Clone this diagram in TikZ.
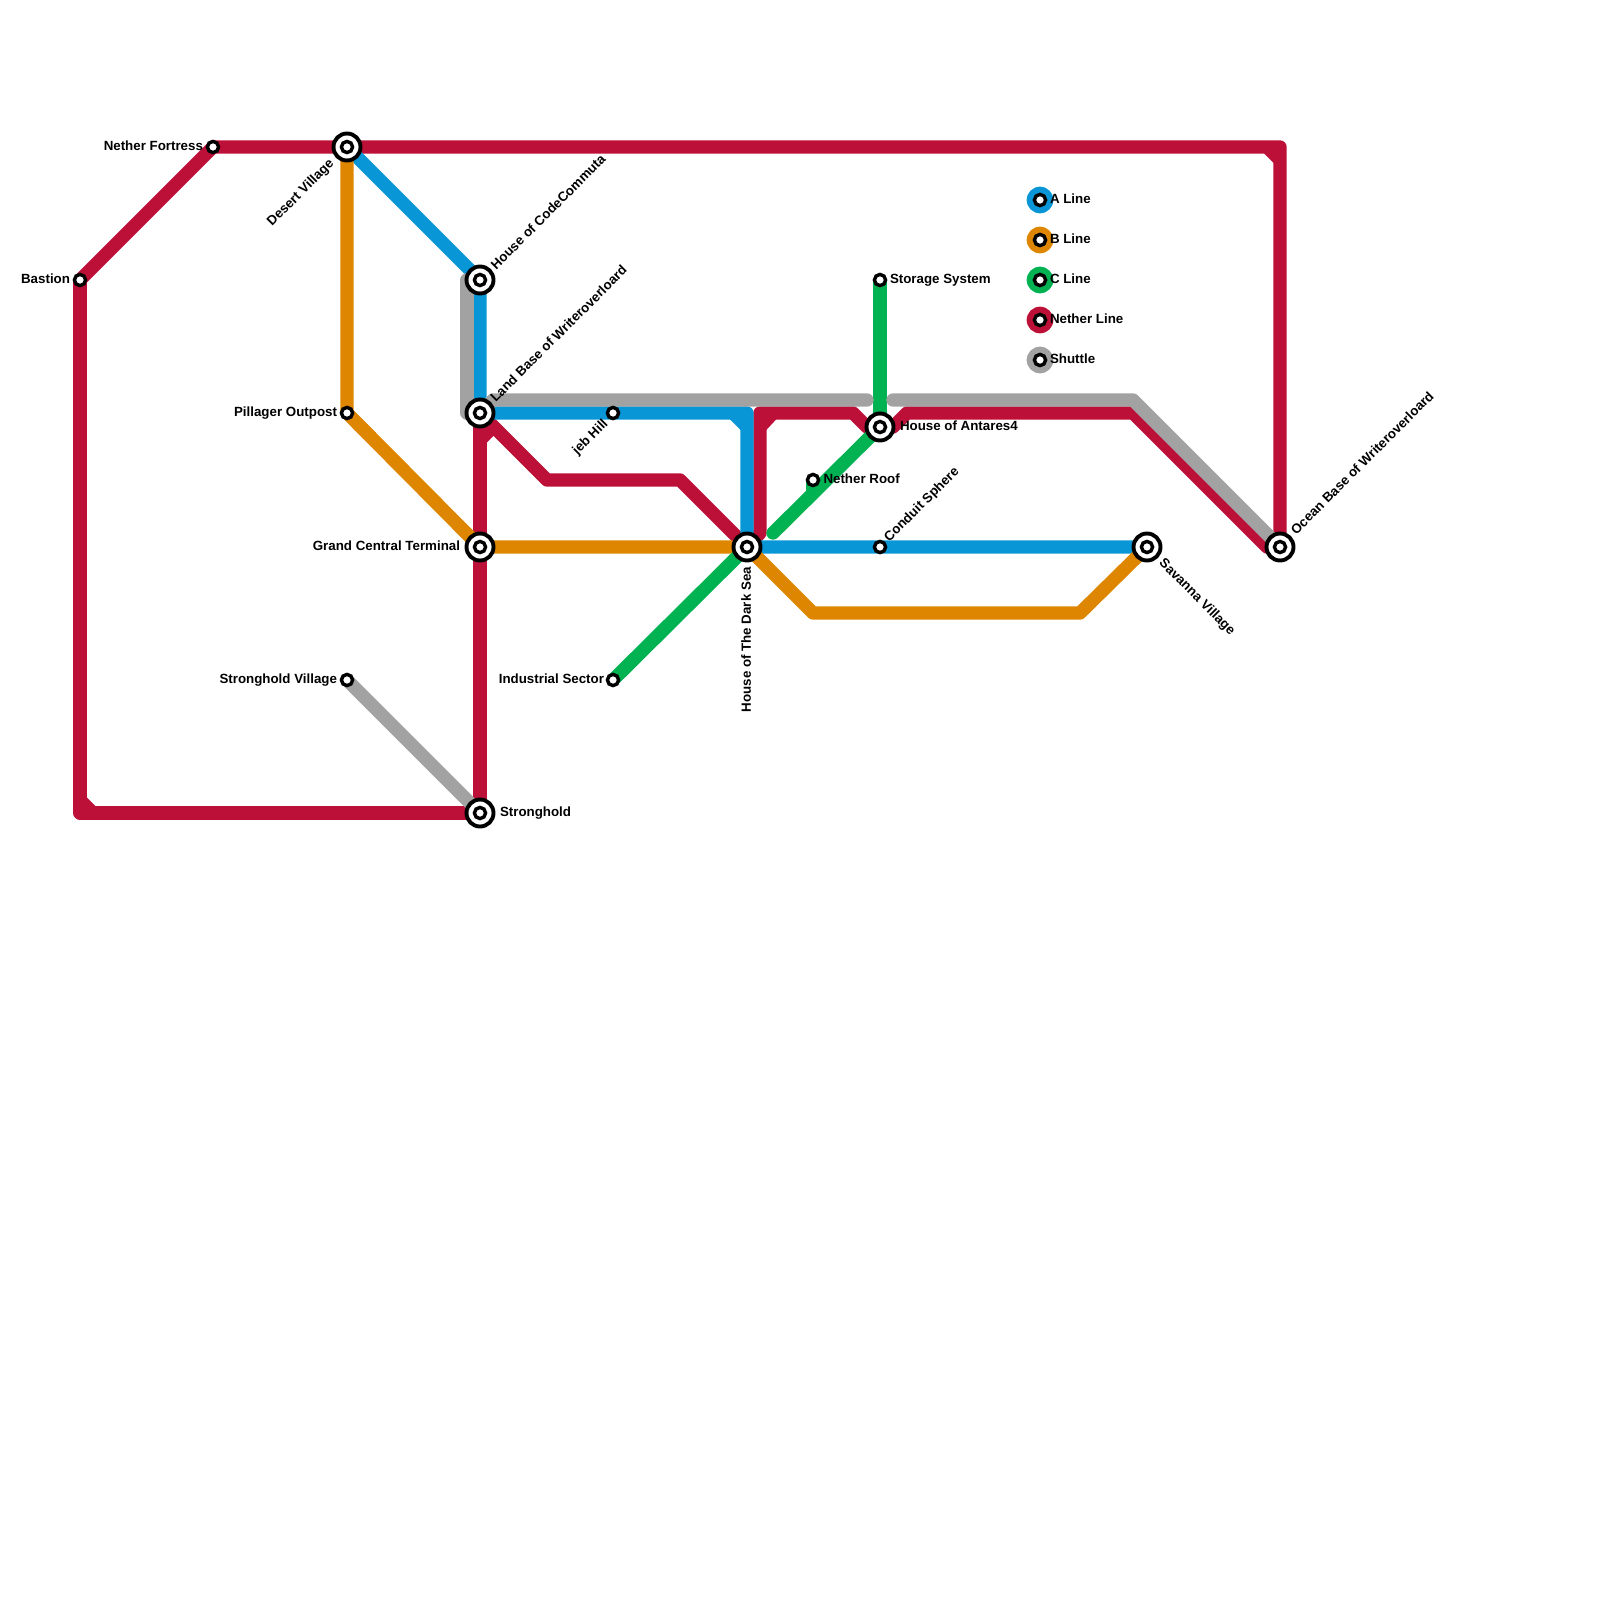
\documentclass[tikz,border=0pt]{standalone}
\usepackage{fontspec}
\setmainfont{Liberation Sans}
\usepackage{xcolor}
\usetikzlibrary{backgrounds}
\definecolor{lineablue}{HTML}{0896D7}
\definecolor{linebor}{HTML}{DF8600}
\definecolor{linecgr}{HTML}{00B251}
\definecolor{nethred}{HTML}{BD1038}
\definecolor{shutgray}{HTML}{A2A2A2}

\begin{document}
\begin{tikzpicture}[
        x=0.01cm, y=-0.01cm,
        every node/.style={inner sep=0pt, outer sep=0pt},
        stn/.style   ={circle, draw=black, fill=white, line width=0.034cm,
                       minimum size=0.112cm},
        hub/.style   ={circle, draw=black, fill=white, line width=0.039cm,
                       minimum size=0.27cm,
                       path picture={\draw[line width=0.034cm]
                           (path picture bounding box.center) circle[radius=0.056cm];}},
        metro/.style ={line width=0.1333cm, line join=round},
        aline/.style ={metro, draw=lineablue},
        bline/.style ={metro, draw=linebor},
        cline/.style ={metro, draw=linecgr},
        nline/.style ={metro, draw=nethred},
        sline/.style ={metro, draw=shutgray},
        swatch/.style={circle, minimum size=0.2667cm},
        lbl/.style   ={font=\fontsize{3.79pt}{4.5pt}\selectfont\bfseries,
                       text height=0.096cm, text depth=0pt},
    ]
        \useasboundingbox (0,0) rectangle (1600,1600);

        % ===================== Estaciones =====================
        \node[stn] (bastion) at (80,280) {};
        \node[stn] (fortress) at (213,147) {};
        \node[hub] (desert) at (347,147) {};
        \node[hub] (codecom) at (480,280) {};
        \node[hub] (landbase) at (480,413) {};
        \node[stn] (pillager) at (347,413) {};
        \node[stn] (jeb) at (613,413) {};
        \node[hub] (central) at (480,547) {};
        \node[hub] (darksea) at (747,547) {};
        \node[stn] (roof) at (813,480) {};
        \node[hub] (antares) at (880,427) {};
        \node[stn] (storage) at (880,280) {};
        \node[stn] (conduit) at (880,547) {};
        \node[hub] (savanna) at (1147,547) {};
        \node[hub] (ocean) at (1280,547) {};
        \node[stn] (svillage) at (347,680) {};
        \node[stn] (industrial) at (613,680) {};
        \node[hub] (stronghold) at (480,813) {};

        % ===================== Puntos de giro =====================
        \coordinate (nTopA) at (1267,147);
        \coordinate (nTopB) at (1280,147);
        \coordinate (nTopC) at (1280,160);
        \coordinate (nLowA) at (80,800);
        \coordinate (nLowB) at (80,813);
        \coordinate (nLowC) at (93,813);
        \coordinate (nLbA) at (480,440);
        \coordinate (nLbB) at (493,427);
        \coordinate (nMidA) at (547,480);
        \coordinate (nMidB) at (680,480);
        \coordinate (nUpA) at (760,533);
        \coordinate (nUpB) at (760,413);
        \coordinate (nUpC) at (760,427);
        \coordinate (nUpD) at (773,413);
        \coordinate (nUpE) at (853,413);
        \coordinate (nUpF) at (867,427);
        \coordinate (nUpG) at (893,427);
        \coordinate (nUpH) at (907,413);
        \coordinate (nUpI) at (1133,413);
        \coordinate (nUpJ) at (1267,547);
        \coordinate (aCorner) at (747,413);
        \coordinate (aCutA) at (733,413);
        \coordinate (aCutB) at (747,427);
        \coordinate (bLowA) at (813,613);
        \coordinate (bLowB) at (1080,613);
        \coordinate (cEnd) at (773,533);
        \coordinate (cRoof) at (813,494);
        \coordinate (sTop) at (467,280);
        \coordinate (sLow) at (467,413);
        \coordinate (sBarA) at (493,400);
        \coordinate (sBarB) at (867,400);
        \coordinate (sBarC) at (893,400);
        \coordinate (sBarD) at (1133,400);

        % ===================== Lineas =====================
        \begin{scope}[on background layer]
            % Nether Line
            \draw[nline] (bastion.center) -- (fortress.center) -- (desert.center) -- (nTopB) -- (ocean.center);
            \draw[nline] (nTopA) -- (nTopC);
            \draw[nline] (bastion.center) -- (nLowB) -- (stronghold.center) -- (landbase.center);
            \draw[nline] (nLowA) -- (nLowC);
            \draw[nline] (nLbA) -- (nLbB);
            \draw[nline] (landbase.center) -- (nMidA) -- (nMidB) -- (darksea.center);
            \draw[nline] (darksea.center) -- (nUpA) -- (nUpB) -- (nUpE) -- (nUpF) -- (antares.center);
            \draw[nline] (nUpC) -- (nUpD);
            \draw[nline] (antares.center) -- (nUpG) -- (nUpH) -- (nUpI) -- (nUpJ) -- (ocean.center);

            % A Line
            \draw[aline] (desert.center) -- (codecom.center) -- (landbase.center) -- (jeb.center) -- (aCorner) -- (darksea.center) -- (conduit.center) -- (savanna.center);
            \draw[aline] (aCutA) -- (aCutB);

            % B Line
            \draw[bline] (desert.center) -- (pillager.center) -- (central.center) -- (darksea.center) -- (bLowA) -- (bLowB) -- (savanna.center);

            % C Line
            \draw[cline] (storage.center) -- (antares.center);
            \draw[cline, line cap=round] (antares.center) -- (cEnd);
            \draw[cline] (roof.center) -- (cRoof);
            \draw[cline] (darksea.center) -- (industrial.center);

            % Shuttle
            \draw[sline] (codecom.center) -- (sTop) -- (sLow) -- (landbase.center);
            \draw[sline, line cap=round] (landbase.center) -- (sBarA) -- (sBarB);
            \draw[sline, line cap=round] (sBarC) -- (sBarD) -- (ocean.center);
            \draw[sline] (svillage.center) -- (stronghold.center);
        \end{scope}

        % ===================== Leyenda =====================
        \node[swatch, fill=lineablue] (swa) at (1040,200) {};
        \node[swatch, fill=linebor] (swb) at (1040,240) {};
        \node[swatch, fill=linecgr] (swc) at (1040,280) {};
        \node[swatch, fill=nethred] (swn) at (1040,320) {};
        \node[swatch, fill=shutgray] (sws) at (1040,360) {};
        \node[stn] (keya) at (swa) {};
        \node[stn] (keyb) at (swb) {};
        \node[stn] (keyc) at (swc) {};
        \node[stn] (keyn) at (swn) {};
        \node[stn] (keys) at (sws) {};
        \node[lbl, anchor=west] (ta) at (1050,198.5) {A Line};
        \node[lbl, anchor=west] (tb) at (1050,238.5) {B Line};
        \node[lbl, anchor=west] (tc) at (1050,278.5) {C Line};
        \node[lbl, anchor=west] (tn) at (1050,318.5) {Nether Line};
        \node[lbl, anchor=west] (ts) at (1050,358.5) {Shuttle};

        % ===================== Rotulos =====================
        \node[lbl, anchor=east] (tbastion) at (70,278.5) {Bastion};
        \node[lbl, anchor=east] (tfortress) at (203,145.5) {Nether Fortress};
        \node[lbl, anchor=east, rotate=45] (tdesert) at (331,161) {Desert Village};
        \node[lbl, anchor=west, rotate=45] (tcodecom) at (493,267) {House of CodeCommuta};
        \node[lbl, anchor=west, rotate=45] (tlandbase) at (492.5,399.5) {Land Base of Writeroverloard};
        \node[lbl, anchor=east] (tpillager) at (337,411.5) {Pillager Outpost};
        \node[lbl, anchor=east, rotate=45] (tjeb) at (605,421) {jeb Hill};
        \node[lbl, anchor=east] (tcentral) at (460,545.5) {Grand Central Terminal};
        \node[lbl, anchor=east, rotate=90] (tdarksea) at (746,567) {House of The Dark Sea};
        \node[lbl, anchor=west] (troof) at (823.5,478.5) {Nether Roof};
        \node[lbl, anchor=west] (tantares) at (900,425.5) {House of Antares4};
        \node[lbl, anchor=west] (tstorage) at (890,278.5) {Storage System};
        \node[lbl, anchor=west, rotate=45] (tconduit) at (886,539) {Conduit Sphere};
        \node[lbl, anchor=west, rotate=-45] (tsavanna) at (1162,560.5) {Savanna Village};
        \node[lbl, anchor=west, rotate=45] (tocean) at (1293,532) {Ocean Base of Writeroverloard};
        \node[lbl, anchor=east] (tsvillage) at (337,678.5) {Stronghold Village};
        \node[lbl, anchor=east] (tindustrial) at (604,678.5) {Industrial Sector};
        \node[lbl, anchor=west] (tstronghold) at (500,812) {Stronghold};
    \end{tikzpicture}
\end{document}
